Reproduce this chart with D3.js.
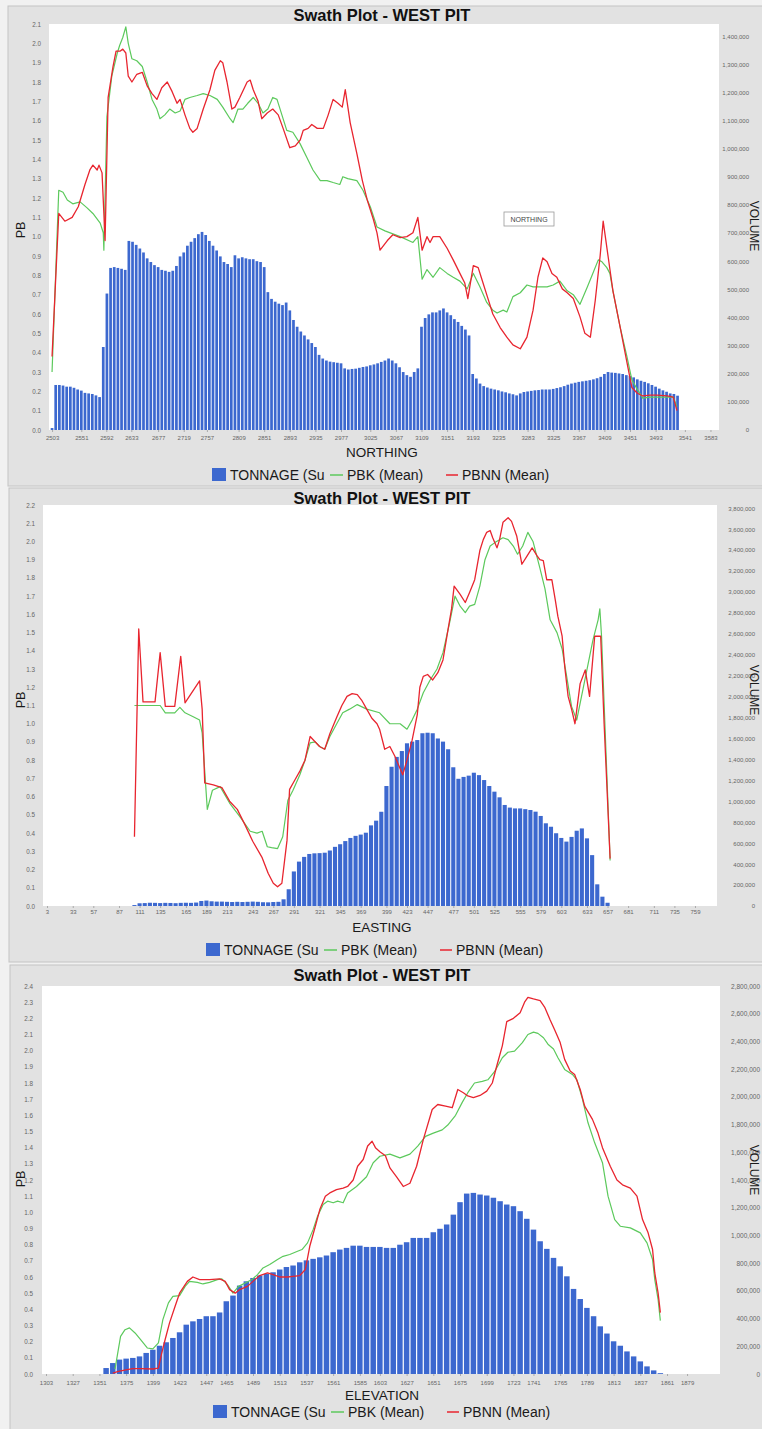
<!DOCTYPE html>
<html><head><meta charset="utf-8">
<script src="https://cdn.jsdelivr.net/npm/d3@7"></script>
<style>
body{margin:0;background:#f1f1f1;}
svg{display:block;font-family:"Liberation Sans",Arial,sans-serif;}
</style></head>
<body><svg id="chart" width="762" height="1429"></svg>
<script>
// ---------------- DATA ----------------
const chartTitle = "Swath Plot - WEST PIT";
const legendLabels = ["TONNAGE (Su", "PBK (Mean)", "PBNN (Mean)"];

// --- NORTHING ---
const northingTicks = [2503,2551,2592,2633,2677,2719,2757,2809,2851,2893,2935,2977,3025,3067,3109,3151,3193,3235,3283,3325,3367,3409,3451,3493,3541,3583];
const northingPbTicks = [0,0.1,0.2,0.3,0.4,0.5,0.6,0.7,0.8,0.9,1.0,1.1,1.2,1.3,1.4,1.5,1.6,1.7,1.8,1.9,2.0,2.1];
const northingVolTicks = [0,100000,200000,300000,400000,500000,600000,700000,800000,900000,1000000,1100000,1200000,1300000,1400000];
const northingBins = [2503,2509,2515,2521,2527,2533,2539,2545,2551,2557,2563,2569,2575,2581,2587,2593,2599,2605,2611,2617,2623,2629,2635,2641,2647,2653,2659,2665,2671,2677,2683,2689,2695,2701,2707,2713,2719,2725,2731,2737,2743,2749,2755,2761,2767,2773,2779,2785,2791,2797,2803,2809,2815,2821,2827,2833,2839,2845,2851,2857,2863,2869,2875,2881,2887,2893,2899,2905,2911,2917,2923,2929,2935,2941,2947,2953,2959,2965,2971,2977,2983,2989,2995,3001,3007,3013,3019,3025,3031,3037,3043,3049,3055,3061,3067,3073,3079,3085,3091,3097,3103,3109,3115,3121,3127,3133,3139,3145,3151,3157,3163,3169,3175,3181,3187,3193,3199,3205,3211,3217,3223,3229,3235,3241,3247,3253,3259,3265,3271,3277,3283,3289,3295,3301,3307,3313,3319,3325,3331,3337,3343,3349,3355,3361,3367,3373,3379,3385,3391,3397,3403,3409,3415,3421,3427,3433,3439,3445,3451,3457,3463,3469,3475,3481,3487,3493,3499,3505,3511,3517,3523,3529];
const northingTonnage = [7e3,160e3,160e3,158e3,154e3,154e3,150e3,144e3,140e3,132e3,
130e3,128e3,123e3,117e3,295e3,485e3,576e3,579e3,576e3,573e3,
569e3,672e3,669e3,658e3,645e3,631e3,610e3,597e3,586e3,579e3,
569e3,566e3,562e3,566e3,583e3,617e3,631e3,655e3,669e3,682e3,
696e3,704e3,693e3,672e3,655e3,638e3,617e3,597e3,590e3,579e3,
621e3,610e3,614e3,610e3,607e3,607e3,600e3,597e3,579e3,490e3,
466e3,456e3,449e3,444e3,453e3,425e3,391e3,367e3,350e3,336e3,
322e3,309e3,295e3,267e3,254e3,247e3,243e3,241e3,239e3,237e3,
219e3,215e3,217e3,218e3,221e3,224e3,226e3,230e3,233e3,237e3,
242e3,247e3,254e3,247e3,237e3,223e3,206e3,195e3,189e3,206e3,
219e3,367e3,398e3,411e3,418e3,418e3,425e3,432e3,418e3,408e3,
394e3,384e3,370e3,357e3,336e3,199e3,183e3,165e3,156e3,151e3,
147e3,144e3,141e3,137e3,134e3,130e3,127e3,123e3,130e3,135e3,
137e3,139e3,141e3,142e3,144e3,144e3,144e3,146e3,149e3,152e3,
156e3,161e3,165e3,168e3,171e3,173e3,175e3,177e3,180e3,184e3,
189e3,199e3,206e3,204e3,203e3,201e3,199e3,195e3,192e3,187e3,
180e3,175e3,171e3,166e3,160e3,154e3,147e3,141e3,136e3,130e3,
128e3,122e3];
const northingPbkX = [2503,2514,2521,2528,2537,2549,2560,2570,2582,2587,2588,2593,2601,2610,2614,2619,2624,2628,2634,2642,2651,2659,2667,2675,2680,2688,2696,2705,2713,2721,2729,2741,2751,2762,2774,2783,2795,2800,2808,2816,2824,2833,2841,2849,2857,2865,2872,2880,2888,2898,2910,2921,2931,2943,2954,2964,2975,2980,2988,3003,3013,3025,3036,3049,3074,3095,3103,3110,3118,3128,3139,3151,3161,3172,3184,3194,3205,3216,3226,3233,3243,3249,3259,3271,3282,3292,3303,3315,3325,3336,3348,3358,3369,3381,3390,3399,3405,3413,3418,3423,3435,3446,3454,3463,3472,3484,3495,3512,3522,3528];
const northingPbk = [0.30,1.24,1.23,1.19,1.17,1.18,1.15,1.12,1.07,1.02,
0.93,1.62,1.83,1.95,1.99,2.03,2.085,2.0,1.92,1.91,
1.88,1.80,1.71,1.66,1.61,1.63,1.66,1.64,1.65,1.71,
1.72,1.73,1.74,1.73,1.71,1.67,1.61,1.59,1.66,1.66,
1.69,1.72,1.69,1.64,1.66,1.72,1.71,1.63,1.55,1.54,
1.48,1.41,1.345,1.29,1.29,1.28,1.27,1.31,1.30,1.29,
1.24,1.155,1.05,1.03,1.0,0.97,1.0,0.78,0.83,0.79,
0.84,0.81,0.79,0.77,0.73,0.81,0.74,0.66,0.62,0.605,
0.62,0.61,0.69,0.71,0.75,0.74,0.74,0.74,0.75,0.77,
0.72,0.70,0.65,0.74,0.81,0.88,0.87,0.84,0.81,0.72,
0.53,0.38,0.26,0.21,0.165,0.17,0.17,0.17,0.17,0.12];
const northingPbnnX = [2503,2514,2524,2536,2546,2557,2565,2570,2577,2580,2585,2590,2595,2603,2608,2615,2619,2624,2628,2634,2642,2651,2659,2667,2675,2683,2692,2700,2708,2713,2721,2729,2734,2741,2751,2762,2770,2779,2783,2790,2798,2803,2811,2823,2828,2833,2841,2847,2856,2865,2874,2882,2893,2902,2910,2915,2923,2929,2938,2948,2956,2964,2972,2979,2984,2992,3003,3012,3020,3030,3036,3041,3053,3062,3074,3085,3095,3103,3110,3118,3123,3128,3139,3151,3161,3172,3180,3185,3194,3202,3208,3217,3226,3238,3249,3259,3271,3282,3292,3300,3308,3315,3323,3331,3340,3348,3358,3369,3377,3386,3394,3402,3407,3415,3423,3435,3446,3454,3463,3472,3484,3495,3512,3522,3528];
const northingPbnn = [0.38,1.12,1.08,1.10,1.155,1.27,1.345,1.37,1.345,1.37,
1.33,0.98,1.72,1.88,1.96,1.96,1.97,1.95,1.83,1.80,
1.84,1.85,1.78,1.74,1.71,1.77,1.80,1.75,1.69,1.71,
1.63,1.56,1.54,1.56,1.66,1.76,1.86,1.91,1.90,1.80,
1.66,1.67,1.72,1.80,1.81,1.76,1.70,1.61,1.64,1.66,
1.63,1.56,1.46,1.47,1.50,1.55,1.56,1.58,1.56,1.56,
1.63,1.71,1.69,1.67,1.76,1.59,1.43,1.29,1.19,1.09,
1.02,0.93,0.98,1.01,0.995,1.0,1.02,1.10,0.93,1.0,
0.97,1.0,1.0,0.94,0.88,0.81,0.76,0.68,0.85,0.84,
0.78,0.69,0.60,0.53,0.48,0.44,0.42,0.48,0.62,0.79,
0.89,0.87,0.81,0.79,0.73,0.71,0.68,0.585,0.50,0.48,
0.67,0.90,1.08,0.90,0.72,0.53,0.35,0.22,0.19,0.176,
0.18,0.18,0.176,0.17,0.10];

// --- EASTING ---
const eastingTicks = [3,33,57,87,111,135,165,189,213,243,267,291,321,345,369,399,423,447,477,501,525,555,579,603,633,657,681,711,735,759];
const eastingPbTicks = [0,0.1,0.2,0.3,0.4,0.5,0.6,0.7,0.8,0.9,1.0,1.1,1.2,1.3,1.4,1.5,1.6,1.7,1.8,1.9,2.0,2.1,2.2];
const eastingVolTicks = [0,200000,400000,600000,800000,1000000,1200000,1400000,1600000,1800000,2000000,2200000,2400000,2600000,2800000,3000000,3200000,3400000,3600000,3800000];
const eastingBins = [105,111,117,123,129,135,141,147,153,159,165,171,177,183,189,195,201,207,213,219,225,231,237,243,249,255,261,267,273,279,285,291,297,303,309,315,321,327,333,339,345,351,357,363,369,375,381,387,393,399,405,411,417,423,429,435,441,447,453,459,465,471,477,483,489,495,501,507,513,519,525,531,537,543,549,555,561,567,573,579,585,591,597,603,609,615,621,627,633,639,645,651,657];
const eastingTonnage = [9e3,26e3,28e3,31e3,30e3,28e3,30e3,29e3,27e3,30e3,
31e3,30e3,33e3,48e3,52e3,45e3,42e3,42e3,40e3,38e3,
40e3,38e3,40e3,42e3,40e3,36e3,35e3,38e3,40e3,64e3,
160e3,330e3,424e3,469e3,497e3,503e3,505e3,509e3,530e3,565e3,
590e3,620e3,650e3,670e3,682e3,700e3,770e3,815e3,900e3,1146e3,
1330e3,1424e3,1480e3,1554e3,1570e3,1585e3,1650e3,1655e3,1650e3,1600e3,
1570e3,1497e3,1325e3,1215e3,1233e3,1245e3,1273e3,1250e3,1203e3,1146e3,
1092e3,1038e3,965e3,940e3,932e3,932e3,925e3,917e3,901e3,860e3,
790e3,757e3,695e3,650e3,615e3,660e3,719e3,741e3,646e3,486e3,
207e3,89e3,31e3];
const eastingPbkX = [105,115,135,141,152,158,164,173,181,184,190,196,205,216,228,240,248,254,260,265,272,278,284,290,298,304,310,316,321,327,333,341,348,356,365,376,391,403,415,423,429,435,442,450,458,465,473,479,485,491,496,502,508,514,520,526,531,535,541,547,552,558,564,570,578,584,590,598,604,610,615,621,640,646,648,650,660];
const eastingPbk = [1.10,1.10,1.10,1.06,1.06,1.09,1.06,1.04,1.02,0.95,
0.53,0.635,0.655,0.565,0.49,0.41,0.40,0.41,0.325,0.32,
0.315,0.38,0.58,0.635,0.72,0.80,0.895,0.90,0.875,0.86,
0.93,1.0,1.06,1.08,1.105,1.08,1.06,1.0,1.0,0.97,
1.02,1.08,1.17,1.24,1.30,1.39,1.56,1.70,1.645,1.61,
1.645,1.655,1.755,1.90,1.975,1.995,2.01,2.02,2.01,1.975,
1.93,1.975,2.05,2.0,1.855,1.74,1.57,1.50,1.41,1.24,
1.095,1.02,1.46,1.57,1.63,1.48,0.25];
const eastingPbnnX = [105,110,115,129,135,141,152,159,164,181,184,187,197,207,216,225,234,243,254,261,267,272,277,283,286,292,298,304,310,316,321,327,333,341,347,353,359,365,370,376,382,388,391,397,403,409,418,423,429,435,438,442,447,453,459,465,471,475,478,485,491,496,502,508,512,516,520,523,528,531,535,541,545,551,557,563,569,575,578,582,586,592,596,599,604,607,611,615,619,625,631,636,642,649,653,660];
const eastingPbnn = [0.38,1.52,1.12,1.12,1.39,1.095,1.095,1.37,1.115,1.235,
1.08,0.675,0.665,0.65,0.575,0.53,0.445,0.355,0.265,0.18,
0.125,0.105,0.125,0.36,0.64,0.69,0.74,0.80,0.93,0.90,
0.875,0.86,0.945,1.035,1.10,1.15,1.165,1.16,1.13,1.08,
1.03,1.0,0.97,0.86,0.875,0.82,0.72,0.80,0.91,1.05,
1.2,1.26,1.27,1.24,1.28,1.35,1.52,1.63,1.755,1.71,
1.665,1.72,1.79,1.95,2.01,2.05,2.06,2.02,1.965,2.01,
2.105,2.13,2.11,2.03,1.875,1.92,1.965,1.92,1.90,1.895,
1.79,1.79,1.68,1.59,1.48,1.315,1.15,1.08,1.0,1.22,
1.295,1.15,1.48,1.48,1.0,0.26];

// --- ELEVATION ---
const elevationTicks = [1303,1327,1351,1375,1399,1423,1447,1465,1489,1513,1537,1561,1585,1603,1627,1651,1675,1699,1723,1741,1765,1789,1813,1837,1861,1879];
const elevationPbTicks = [0,0.1,0.2,0.3,0.4,0.5,0.6,0.7,0.8,0.9,1.0,1.1,1.2,1.3,1.4,1.5,1.6,1.7,1.8,1.9,2.0,2.1,2.2,2.3,2.4];
const elevationVolTicks = [0,200000,400000,600000,800000,1000000,1200000,1400000,1600000,1800000,2000000,2200000,2400000,2600000,2800000];
const elevationBins = [1357,1363,1369,1375,1381,1387,1393,1399,1405,1411,1417,1423,1429,1435,1441,1447,1453,1459,1465,1471,1477,1483,1489,1495,1501,1507,1513,1519,1525,1531,1537,1543,1549,1555,1561,1567,1573,1579,1585,1591,1597,1603,1609,1615,1621,1627,1633,1639,1645,1651,1657,1663,1669,1675,1681,1687,1693,1699,1705,1711,1717,1723,1729,1735,1741,1747,1753,1759,1765,1771,1777,1783,1789,1795,1801,1807,1813,1819,1825,1831,1837,1843,1849,1855];
const elevationTonnage = [43e3,79e3,104e3,111e3,116e3,127e3,152e3,175e3,204e3,229e3,
260e3,301e3,356e3,380e3,397e3,417e3,417e3,444e3,525e3,566e3,
638e3,669e3,693e3,711e3,722e3,734e3,754e3,772e3,783e3,806e3,
820e3,831e3,842e3,855e3,879e3,898e3,910e3,926e3,926e3,917e3,
917e3,917e3,910e3,910e3,933e3,951e3,982e3,982e3,982e3,1023e3,
1048e3,1079e3,1150e3,1240e3,1302e3,1307e3,1295e3,1288e3,1272e3,1247e3,
1223e3,1211e3,1175e3,1120e3,1042e3,958e3,903e3,838e3,777e3,705e3,
614e3,541e3,477e3,417e3,344e3,292e3,236e3,204e3,163e3,127e3,
91e3,55e3,26e3,6e3];
const elevationPbkX = [1365,1370,1374,1378,1383,1388,1394,1399,1404,1408,1413,1417,1423,1428,1432,1439,1444,1450,1457,1461,1466,1471,1476,1482,1488,1493,1498,1504,1511,1516,1522,1529,1533,1538,1543,1547,1552,1556,1561,1565,1570,1574,1578,1582,1591,1597,1603,1612,1621,1630,1637,1644,1651,1659,1664,1671,1677,1682,1688,1695,1700,1706,1713,1718,1724,1731,1736,1741,1745,1750,1754,1759,1763,1769,1776,1780,1785,1790,1796,1803,1808,1814,1819,1828,1837,1843,1848,1850,1853,1855];
const elevationPbk = [0.03,0.233,0.274,0.285,0.254,0.212,0.161,0.155,0.192,0.336,
0.44,0.48,0.485,0.542,0.573,0.567,0.557,0.567,0.584,0.588,
0.553,0.50,0.542,0.563,0.584,0.615,0.656,0.677,0.708,0.728,
0.739,0.759,0.77,0.811,0.893,0.976,1.048,1.069,1.059,1.069,
1.059,1.12,1.14,1.16,1.22,1.307,1.347,1.36,1.337,1.36,
1.41,1.47,1.49,1.51,1.54,1.60,1.68,1.74,1.80,1.81,
1.82,1.87,1.956,1.99,1.997,2.05,2.10,2.115,2.107,2.08,
2.04,2.01,1.956,1.884,1.853,1.82,1.70,1.554,1.43,1.307,
1.10,0.955,0.914,0.904,0.873,0.811,0.708,0.584,0.46,0.33];
const elevationPbnnX = [1363,1368,1376,1381,1388,1399,1404,1407,1410,1414,1419,1423,1430,1435,1441,1450,1459,1464,1468,1473,1477,1484,1489,1495,1502,1507,1513,1520,1525,1531,1536,1540,1545,1549,1554,1558,1564,1570,1574,1579,1583,1588,1592,1596,1599,1603,1608,1612,1618,1624,1630,1636,1642,1650,1655,1662,1668,1673,1678,1682,1687,1693,1699,1704,1708,1713,1717,1723,1729,1733,1736,1741,1747,1751,1756,1760,1765,1769,1774,1778,1783,1787,1794,1799,1803,1810,1816,1821,1828,1834,1839,1844,1848,1850,1853,1855];
const elevationPbnn = [0.006,0.016,0.027,0.033,0.033,0.031,0.037,0.13,0.212,0.316,
0.419,0.50,0.573,0.60,0.584,0.584,0.588,0.573,0.522,0.50,
0.522,0.542,0.573,0.609,0.625,0.615,0.60,0.60,0.604,0.609,
0.646,0.79,0.914,1.017,1.10,1.12,1.14,1.15,1.16,1.20,
1.285,1.327,1.41,1.44,1.40,1.375,1.35,1.275,1.22,1.16,
1.18,1.285,1.45,1.636,1.667,1.657,1.647,1.76,1.74,1.72,
1.71,1.723,1.75,1.80,1.905,2.03,2.18,2.20,2.235,2.30,
2.33,2.32,2.31,2.27,2.19,2.13,2.05,1.946,1.874,1.853,
1.76,1.657,1.575,1.49,1.40,1.285,1.20,1.17,1.15,1.10,
0.955,0.873,0.77,0.625,0.50,0.38];

// ---------------- LAYOUT / STYLE ----------------
const COL_BAR = "#3c68cf", COL_PBK = "#5cc95c", COL_PBNN = "#e8252f";
const COL_PANEL = "#e2e2e2", COL_TICK = "#666";

const panels = [
  {key:"n", axisTitle:"NORTHING", frame:[8,6,760,480], plot:{l:49,r:719,t:24,b:430},
   xDomain:[2498,3597], pbMax:2.1, volMax:1443000, barFrac:0.74,
   bins:northingBins, vols:northingTonnage, pbkX:northingPbkX, pbk:northingPbk, pbnnX:northingPbnnX, pbnn:northingPbnn,
   xTicks:northingTicks, pbTicks:northingPbTicks, volTicks:northingVolTicks,
   leftPad:8, rightAnchor:749, xPad:4, titleY:15, xTitleY:452, legendY:475, legendX:212,
   pbLabel:[21,230], volLabel:[750,226], volFont:6},
  {key:"e", axisTitle:"EASTING", frame:[9,488,760,474], plot:{l:43,r:717,t:505,b:906},
   xDomain:[-1.7,784.7], pbMax:2.2, volMax:3830000, barFrac:0.8,
   bins:eastingBins, vols:eastingTonnage, pbkX:eastingPbkX, pbk:eastingPbk, pbnnX:eastingPbnnX, pbnn:eastingPbnn,
   xTicks:eastingTicks, pbTicks:eastingPbTicks, volTicks:eastingVolTicks,
   leftPad:8, rightAnchor:755, xPad:2, titleY:498, xTitleY:927, legendY:950, legendX:206,
   pbLabel:[21,700], volLabel:[750,690], volFont:6},
  {key:"z", axisTitle:"ELEVATION", frame:[10,965,760,470], plot:{l:42,r:720,t:986,b:1374},
   xDomain:[1299.4,1908.6], pbMax:2.4, volMax:2800000, barFrac:0.82,
   bins:elevationBins, vols:elevationTonnage, pbkX:elevationPbkX, pbk:elevationPbk, pbnnX:elevationPbnnX, pbnn:elevationPbnn,
   xTicks:elevationTicks, pbTicks:elevationPbTicks, volTicks:elevationVolTicks,
   leftPad:9, rightAnchor:760, xPad:4.5, titleY:975, xTitleY:1395, legendY:1412, legendX:213,
   pbLabel:[21,1179], volLabel:[750,1170], volFont:6.5}
];

const svg = d3.select("#chart");
const defs = svg.append("defs");

function drawPanel(c){
  const P = c.plot;
  const g = svg.append("g");
  g.append("rect").attr("x",c.frame[0]).attr("y",c.frame[1]).attr("width",c.frame[2]).attr("height",c.frame[3])
    .attr("fill",COL_PANEL).attr("stroke","#c4c4c4").attr("stroke-width",1);
  g.append("rect").attr("x",P.l).attr("y",P.t).attr("width",P.r-P.l).attr("height",P.b-P.t).attr("fill","#fff");

  const x = d3.scaleLinear().domain(c.xDomain).range([P.l,P.r]);
  const yPb = d3.scaleLinear().domain([0,c.pbMax]).range([P.b,P.t]);
  const yVol = d3.scaleLinear().domain([0,c.volMax]).range([P.b,P.t]);

  const clipId = "clip-"+c.key;
  defs.append("clipPath").attr("id",clipId).append("rect")
    .attr("x",P.l).attr("y",P.t).attr("width",P.r-P.l).attr("height",P.b-P.t);
  const pg = g.append("g").attr("clip-path","url(#"+clipId+")");

  const pitch = x(c.bins[1]) - x(c.bins[0]);
  const bw = pitch*c.barFrac;
  pg.selectAll("rect.bar").data(c.bins.map((b,i)=>({b:b,v:c.vols[i]}))).join("rect")
    .attr("class","bar")
    .attr("x",d=>x(d.b)-bw/2).attr("y",d=>yVol(d.v))
    .attr("width",bw).attr("height",d=>yVol(0)-yVol(d.v))
    .attr("fill",COL_BAR);

  const line = d3.line().x(d=>x(d[0])).y(d=>yPb(d[1]));
  pg.append("path").datum(c.pbkX.map((v,i)=>[v,c.pbk[i]]))
    .attr("d",line).attr("fill","none").attr("stroke",COL_PBK).attr("stroke-width",1.2).attr("stroke-linejoin","round");
  pg.append("path").datum(c.pbnnX.map((v,i)=>[v,c.pbnn[i]]))
    .attr("d",line).attr("fill","none").attr("stroke",COL_PBNN).attr("stroke-width",1.3).attr("stroke-linejoin","round");

  // left axis
  const la = g.append("g").attr("transform","translate("+P.l+",0)")
    .call(d3.axisLeft(yPb).tickValues(c.pbTicks).tickFormat(d3.format(".1f")).tickSize(0).tickPadding(c.leftPad));
  la.select(".domain").remove();
  la.selectAll("text").attr("font-size",6.3).attr("fill",COL_TICK).attr("font-family","Liberation Sans, Arial, sans-serif");

  // right axis
  const ra = g.append("g").attr("transform","translate("+P.r+",0)")
    .call(d3.axisRight(yVol).tickValues(c.volTicks).tickFormat(d3.format(",")).tickSize(0));
  ra.select(".domain").remove();
  ra.selectAll("text").attr("x",c.rightAnchor-P.r).attr("text-anchor","end")
    .attr("font-size",c.volFont).attr("fill",COL_TICK).attr("font-family","Liberation Sans, Arial, sans-serif");

  // bottom axis
  const ba = g.append("g").attr("transform","translate(0,"+P.b+")")
    .call(d3.axisBottom(x).tickValues(c.xTicks).tickFormat(d3.format("d")).tickSize(2).tickPadding(c.xPad));
  ba.select(".domain").remove();
  ba.selectAll("line").attr("stroke","#aaa");
  ba.selectAll("text").attr("font-size",6).attr("fill",COL_TICK).attr("font-family","Liberation Sans, Arial, sans-serif");

  // titles
  g.append("text").attr("x",382).attr("y",c.titleY+6).attr("text-anchor","middle")
    .attr("font-size",16.5).attr("font-weight","bold").attr("fill","#111").text(chartTitle);
  g.append("text").attr("x",382).attr("y",c.xTitleY+5).attr("text-anchor","middle")
    .attr("font-size",13.5).attr("fill","#1a1a1a").text(c.axisTitle);
  g.append("text").attr("transform","translate("+c.pbLabel[0]+","+c.pbLabel[1]+") rotate(-90)")
    .attr("text-anchor","middle").attr("dy","0.35em").attr("font-size",12.5).attr("fill","#1a1a1a").text("PB");
  g.append("text").attr("transform","translate("+c.volLabel[0]+","+c.volLabel[1]+") rotate(90)")
    .attr("text-anchor","middle").attr("font-size",12).attr("fill","#1a1a1a").text("VOLUME");

  // legend
  const L = g.append("g").attr("transform","translate("+c.legendX+","+c.legendY+")");
  L.append("rect").attr("x",0).attr("y",-7).attr("width",14).attr("height",13).attr("fill",COL_BAR);
  L.append("text").attr("x",18).attr("y",5).attr("font-size",14).attr("fill","#1a1a1a").text(legendLabels[0]);
  L.append("line").attr("x1",118).attr("x2",131).attr("y1",0).attr("y2",0).attr("stroke",COL_PBK).attr("stroke-width",1.5);
  L.append("text").attr("x",135).attr("y",5).attr("font-size",14).attr("fill","#1a1a1a").text(legendLabels[1]);
  L.append("line").attr("x1",234).attr("x2",246).attr("y1",0).attr("y2",0).attr("stroke",COL_PBNN).attr("stroke-width",1.5);
  L.append("text").attr("x",250).attr("y",5).attr("font-size",14).attr("fill","#1a1a1a").text(legendLabels[2]);
}

panels.forEach(drawPanel);

// hover label box shown in the first panel
const tip = svg.append("g").attr("transform","translate(504,212)");
tip.append("rect").attr("width",50).attr("height",14).attr("fill","#fff").attr("stroke","#999").attr("stroke-width",0.8);
tip.append("text").attr("x",25).attr("y",9.5).attr("text-anchor","middle").attr("font-size",7).attr("fill","#444").text("NORTHING");
</script>
</body></html>
